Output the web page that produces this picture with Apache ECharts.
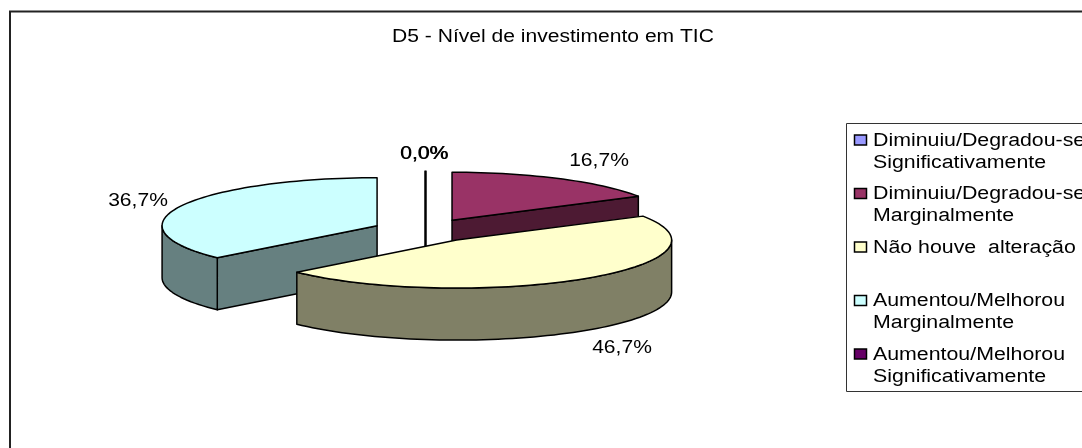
<!DOCTYPE html>
<html><head><meta charset="utf-8">
<style>html,body{margin:0;padding:0;background:#fff}#c{width:1082px;height:448px}</style>
<script src="https://cdn.jsdelivr.net/npm/echarts@6/dist/echarts.min.js"></script>
</head><body><div id="c"></div>
<script>
// ---- data ----
const titleText = 'D5 - Nível de investimento em TIC';
const categories = ['Diminuiu/Degradou-se Significativamente','Diminuiu/Degradou-se Marginalmente','Não houve  alteração','Aumentou/Melhorou Marginalmente','Aumentou/Melhorou Significativamente'];
const legendLines = [['Diminuiu/Degradou-se','Significativamente'],['Diminuiu/Degradou-se','Marginalmente'],['Não houve  alteração'],['Aumentou/Melhorou','Marginalmente'],['Aumentou/Melhorou','Significativamente']];
const values = [0, 16.7, 46.7, 36.7, 0];
const colors = ['#9999FF','#993366','#FFFFCC','#CCFFFF','#660066'];
const sideColors = ['#4D4D80','#4D1A33','#808066','#668080','#330033'];

// ---- layout ----
const pie = {cx:425.5, cy:230.5, rx:215, ry:48, depth:52, explode:53};
const labelAt = [[424,154],[599,161],[622,348],[138,201],[424.6,154]];
const font = {family:'"Liberation Sans", Arial, sans-serif', size:18, stretch:1.17, legendStretch:1.185};
const legendBox = {x:846.5, y:123.5, w:400, h:268, swatchX:854.5, swatchW:12, swatchH:10, textX:873, firstY:140, textDy:1, step:53.5, line:22};

const total = values.reduce((a,b)=>a+b,0);
const rad = d => d*Math.PI/180;
const fmt = v => v.toFixed(1).replace('.',',')+'%';

function renderItem(params, api){
  const i = params.dataIndex, v = api.value(0);
  let before = 0; for(let k=0;k<i;k++) before += values[k];
  const a0 = before/total*360, a1 = (before+v)/total*360, mid=(a0+a1)/2;
  const cx = pie.cx + pie.explode*Math.sin(rad(mid));
  const cy = pie.cy - pie.explode*Math.cos(rad(mid))*pie.ry/pie.rx;
  const P = (a,dz=0)=>[cx+pie.rx*Math.sin(rad(a)), cy-pie.ry*Math.cos(rad(a))+dz];
  const arc = (s,e,dz=0)=>{const o=[],n=Math.max(1,Math.ceil(Math.abs(e-s)/2));for(let k=0;k<=n;k++)o.push(P(s+(e-s)*k/n,dz));return o;};
  const z2 = Math.round(cy);
  const line = {stroke:'#000',lineWidth:1.5,lineJoin:'round'};
  const kids = [];
  const poly = (pts,fill,zz)=>kids.push({type:'polygon',z2:zz,shape:{points:pts},style:Object.assign({fill},line)});
  const apex=[cx,cy], apexB=[cx,cy+pie.depth];
  if(v===0){
    const t=P(a0);
    kids.push({type:'polyline',z2,shape:{points:[t,apex,apexB]},style:{stroke:'#000',lineWidth:2,fill:'none'}});
  } else {
    if(Math.sin(rad(a1))>1e-6) poly([apex,P(a1),P(a1,pie.depth),apexB],sideColors[i],z2);
    if(Math.sin(rad(a0))<-1e-6) poly([apex,P(a0),P(a0,pie.depth),apexB],sideColors[i],z2);
    const s=Math.max(a0,90), e=Math.min(a1,270);
    if(e>s) poly(arc(s,e).concat(arc(e,s,pie.depth)),sideColors[i],z2);
    poly([apex].concat(arc(a0,a1)),colors[i],z2);
  }
  kids.push({type:'text',z2:900,x:labelAt[i][0],y:labelAt[i][1],scaleX:font.stretch,
    style:{text:fmt(v),fill:'#000',font:font.size+'px '+font.family,align:'center',verticalAlign:'middle'}});
  return {type:'group',children:kids};
}

const graphics = [
  {type:'rect',z:0,shape:{x:10,y:11.5,width:1300,height:700},style:{fill:'#fff',stroke:'#222',lineWidth:2},silent:true},
  {type:'rect',z:1,shape:{x:legendBox.x,y:legendBox.y,width:legendBox.w,height:legendBox.h},style:{fill:'#fff',stroke:'#333',lineWidth:1},silent:true},
  {type:'text',z:5,x:553,y:37,scaleX:font.stretch,style:{text:titleText,fill:'#000',font:font.size+'px '+font.family,align:'center',verticalAlign:'middle'}}
];
legendLines.forEach((lines,i)=>{
  const y = legendBox.firstY + i*legendBox.step;
  graphics.push({type:'rect',z:5,shape:{x:legendBox.swatchX,y:y-legendBox.swatchH/2,width:legendBox.swatchW,height:legendBox.swatchH},style:{fill:colors[i],stroke:'#000',lineWidth:1.5}});
  lines.forEach((t,j)=>graphics.push({type:'text',z:5,x:legendBox.textX,y:y+legendBox.textDy+j*legendBox.line,scaleX:font.legendStretch,style:{text:t,fill:'#000',font:font.size+'px '+font.family,align:'left',verticalAlign:'middle'}}));
});

const chart = echarts.init(document.getElementById('c'),null,{renderer:'canvas'});
chart.setOption({
  animation:false,
  backgroundColor:'#fff',
  graphic:graphics,
  series:[{type:'custom',coordinateSystem:'none',z:3,renderItem,silent:true,clip:false,
    data:values.map((v,i)=>({name:categories[i],value:[v]}))}]
});
</script></body></html>
